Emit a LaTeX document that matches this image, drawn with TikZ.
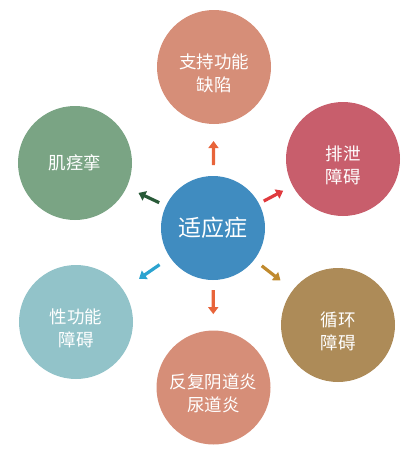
\documentclass[tikz,border=0pt]{standalone}
\usepackage{fontspec}
\newfontfamily\cjk{Noto Sans CJK SC}
\usetikzlibrary{arrows.meta,calc}
\definecolor{cblue}{RGB}{64,140,192}
\definecolor{csalmon}{RGB}{214,142,120}
\definecolor{cgreen}{RGB}{122,164,132}
\definecolor{cred}{RGB}{200,94,108}
\definecolor{cbrown}{RGB}{173,139,88}
\definecolor{cteal}{RGB}{146,195,201}
\definecolor{aorange}{RGB}{232,100,58}
\definecolor{ared}{RGB}{224,58,62}
\definecolor{abrown}{RGB}{192,138,46}
\definecolor{agreen}{RGB}{40,90,56}
\definecolor{acyan}{RGB}{43,163,208}
\tikzset{
  outer/.style={circle,minimum size=114pt,inner sep=0pt},
  lbl/.style={text=white,align=center,inner sep=0pt,
    font=\cjk\fontsize{17.5}{23}\selectfont},
  hub/.style={circle,minimum size=104pt,inner sep=0pt,text=white,fill=cblue,
    font=\cjk\fontsize{23}{28}\selectfont},
  arr/.style={line width=3.2pt,-{Triangle[length=7pt,width=10pt]}}
}
\begin{document}
\begin{tikzpicture}[x=1pt,y=-1pt]
\useasboundingbox (0,0) rectangle (404,450);
\node[hub] (c) at (213,228) {适应症};
\node[outer,fill=csalmon] (t) at (214,67) {};
\node[lbl] (tl) at ([yshift=-6pt]t.center) {支持功能\\缺陷};
\node[outer,fill=cred] (rt) at (343,159) {};
\node[lbl] (rtl) at ([yshift=-6pt]rt.center) {排泄\\障碍};
\node[outer,fill=cbrown] (rb) at (338,325) {};
\node[lbl] (rbl) at ([yshift=-6pt]rb.center) {循环\\障碍};
\node[outer,fill=csalmon] (b) at (213.5,387.5) {};
\node[lbl] (bl) at ([yshift=-6pt]b.center) {反复阴道炎\\尿道炎};
\node[outer,fill=cteal] (lb) at (76,322) {};
\node[lbl] (lbl) at ([yshift=-6pt]lb.center) {性功能\\障碍};
\node[outer,fill=cgreen] (lt) at (75,163) {};
\node[lbl] (ltl) at (lt.center) {肌痉挛};
\draw[arr,aorange] ($(c)!0.39!(t)$) -- ($(c)!0.54!(t)$);
\draw[arr,ared] ($(c)!0.39!(rt)$) -- ($(c)!0.54!(rt)$);
\draw[arr,abrown] ($(c)!0.39!(rb)$) -- ($(c)!0.54!(rb)$);
\draw[arr,aorange] ($(c)!0.39!(b)$) -- ($(c)!0.54!(b)$);
\draw[arr,acyan] ($(c)!0.39!(lb)$) -- ($(c)!0.54!(lb)$);
\draw[arr,agreen] ($(c)!0.39!(lt)$) -- ($(c)!0.54!(lt)$);
\end{tikzpicture}
\end{document}
